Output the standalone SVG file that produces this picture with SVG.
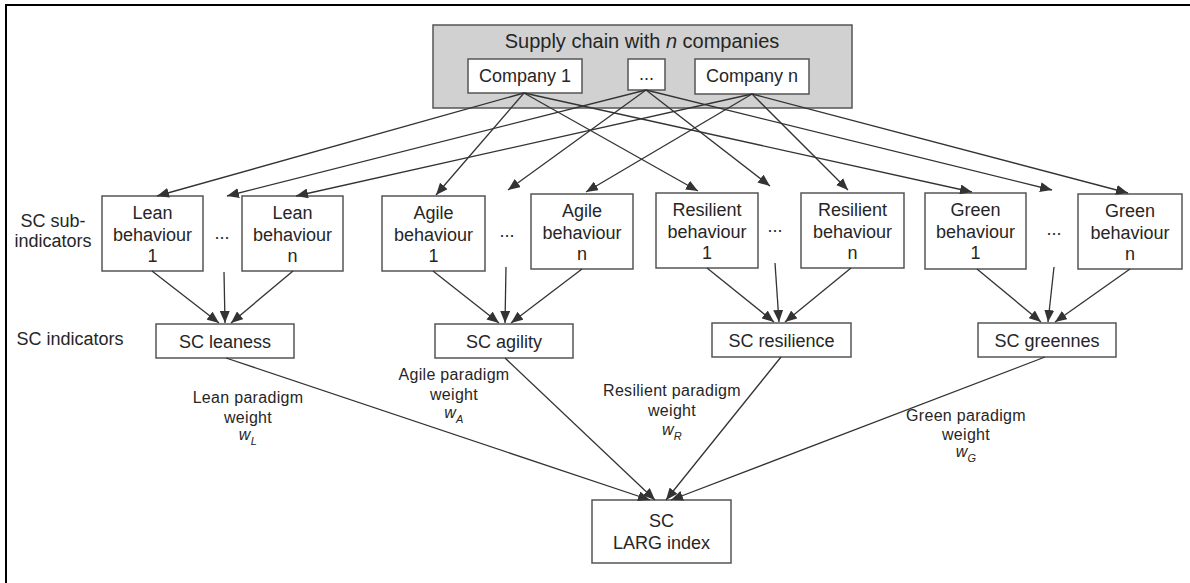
<svg xmlns="http://www.w3.org/2000/svg" width="1190" height="583" viewBox="0 0 1190 583">
<style>
.bx{fill:#fff;stroke:#555;stroke-width:1.5}
.t{font-family:"Liberation Sans",Arial,sans-serif;font-size:18px;fill:#262626;text-anchor:middle}
.tl{font-family:"Liberation Sans",Arial,sans-serif;font-size:18px;fill:#262626;text-anchor:middle}
.w{font-family:"Liberation Sans",Arial,sans-serif;font-size:16px;fill:#262626;text-anchor:middle;letter-spacing:0.3px}
.c line{stroke:#333;stroke-width:1.3;marker-end:url(#ah)}
.c path{stroke:#333;stroke-width:1.3;fill:none}
</style>
<defs>
<marker id="ah" markerUnits="userSpaceOnUse" markerWidth="13" markerHeight="10" refX="12" refY="5" orient="auto">
<path d="M0,0 L12,5 L0,10 z" fill="#333"/>
</marker>
</defs>
<rect width="1190" height="583" fill="#fff"/>
<path d="M6,583 V5 H1190" fill="none" stroke="#000" stroke-width="2"/>

<g id="supply-chain">
<rect x="433" y="25" width="419" height="83" fill="#d1d1d1" stroke="#555" stroke-width="1.5"/>
<text class="t" x="642" y="48" font-size="20" style="font-size:20px">Supply chain with <tspan font-style="italic">n</tspan> companies</text>
</g>
<g id="company-1"><rect class="bx" x="468" y="59" width="114" height="34"/><text class="t" x="525" y="82">Company 1</text></g>
<g id="company-dots"><rect class="bx" x="628" y="59" width="37" height="31"/><text class="t" x="646.5" y="80">...</text></g>
<g id="company-n"><rect class="bx" x="695" y="59" width="114" height="35"/><text class="t" x="752" y="82">Company n</text></g>

<g id="label-sub"><text class="tl" x="53" y="227">SC sub-</text><text class="tl" x="53" y="247">indicators</text></g>
<g id="label-ind"><text class="tl" x="70" y="345">SC indicators</text></g>

<g id="lean-1"><rect class="bx" x="102" y="196" width="101" height="75"/><text class="t" x="152.5" y="219">Lean</text><text class="t" x="152.5" y="240.5">behaviour</text><text class="t" x="152.5" y="262">1</text></g>
<g id="lean-dots"><text class="t" x="222" y="239">...</text></g>
<g id="lean-n"><rect class="bx" x="242" y="196" width="101" height="75"/><text class="t" x="292.5" y="219">Lean</text><text class="t" x="292.5" y="240.5">behaviour</text><text class="t" x="292.5" y="262">n</text></g>

<g id="agile-1"><rect class="bx" x="382" y="196" width="103" height="75"/><text class="t" x="433.5" y="219">Agile</text><text class="t" x="433.5" y="240.5">behaviour</text><text class="t" x="433.5" y="262">1</text></g>
<g id="agile-dots"><text class="t" x="507" y="237">...</text></g>
<g id="agile-n"><rect class="bx" x="531" y="194" width="102" height="75"/><text class="t" x="582" y="217">Agile</text><text class="t" x="582" y="238.5">behaviour</text><text class="t" x="582" y="260">n</text></g>

<g id="resilient-1"><rect class="bx" x="656" y="193" width="102" height="75"/><text class="t" x="707" y="216">Resilient</text><text class="t" x="707" y="237.5">behaviour</text><text class="t" x="707" y="259">1</text></g>
<g id="resilient-dots"><text class="t" x="775" y="232">...</text></g>
<g id="resilient-n"><rect class="bx" x="801" y="193" width="103" height="75"/><text class="t" x="852.5" y="216">Resilient</text><text class="t" x="852.5" y="237.5">behaviour</text><text class="t" x="852.5" y="259">n</text></g>

<g id="green-1"><rect class="bx" x="925" y="193" width="101" height="76"/><text class="t" x="975.5" y="216">Green</text><text class="t" x="975.5" y="237.5">behaviour</text><text class="t" x="975.5" y="259">1</text></g>
<g id="green-dots"><text class="t" x="1054" y="235">...</text></g>
<g id="green-n"><rect class="bx" x="1078" y="194" width="104" height="75"/><text class="t" x="1130" y="217">Green</text><text class="t" x="1130" y="238.5">behaviour</text><text class="t" x="1130" y="260">n</text></g>

<g id="sc-leaness"><rect class="bx" x="156" y="324" width="138" height="34"/><text class="t" x="225" y="347.5">SC leaness</text></g>
<g id="sc-agility"><rect class="bx" x="435" y="324" width="138" height="34"/><text class="t" x="504" y="347.5">SC agility</text></g>
<g id="sc-resilience"><rect class="bx" x="712" y="323" width="139" height="34"/><text class="t" x="781.5" y="346.5">SC resilience</text></g>
<g id="sc-greennes"><rect class="bx" x="978" y="323" width="138" height="34"/><text class="t" x="1047" y="346.5">SC greennes</text></g>

<g id="sc-larg"><rect class="bx" x="592" y="500" width="139" height="63"/><text class="t" x="661.5" y="527">SC</text><text class="t" x="661.5" y="549">LARG index</text></g>

<g id="weight-lean"><text class="w" x="248" y="403">Lean paradigm</text><text class="w" x="248" y="423">weight</text><text class="w" x="248" y="440"><tspan font-style="italic">w</tspan><tspan font-style="italic" font-size="11" dy="5">L</tspan></text></g>
<g id="weight-agile"><text class="w" x="454" y="380">Agile paradigm</text><text class="w" x="454" y="400">weight</text><text class="w" x="454" y="418"><tspan font-style="italic">w</tspan><tspan font-style="italic" font-size="11" dy="5">A</tspan></text></g>
<g id="weight-resilient"><text class="w" x="672" y="396">Resilient paradigm</text><text class="w" x="672" y="416">weight</text><text class="w" x="672" y="435"><tspan font-style="italic">w</tspan><tspan font-style="italic" font-size="11" dy="5">R</tspan></text></g>
<g id="weight-green"><text class="w" x="966" y="421">Green paradigm</text><text class="w" x="966" y="439.5">weight</text><text class="w" x="966" y="457"><tspan font-style="italic">w</tspan><tspan font-style="italic" font-size="11" dy="5">G</tspan></text></g>

<g id="connectors" class="c">
<line x1="524" y1="93" x2="157" y2="196"/>
<line x1="524" y1="93" x2="436" y2="195"/>
<line x1="524" y1="93" x2="698" y2="191"/>
<line x1="524" y1="93" x2="972" y2="192"/>
<line x1="646" y1="90" x2="227" y2="196"/>
<line x1="646" y1="90" x2="508" y2="190"/>
<line x1="646" y1="90" x2="770" y2="186"/>
<line x1="646" y1="90" x2="1052" y2="190"/>
<line x1="752" y1="94" x2="296" y2="196"/>
<line x1="752" y1="94" x2="586" y2="192"/>
<line x1="752" y1="94" x2="848" y2="190"/>
<line x1="752" y1="94" x2="1128" y2="193"/>

<line x1="152" y1="271" x2="219" y2="323"/>
<line x1="224" y1="272" x2="225" y2="323"/>
<line x1="293" y1="271" x2="231" y2="323"/>
<line x1="433" y1="271" x2="499" y2="323"/>
<line x1="506" y1="267" x2="505" y2="323"/>
<line x1="582" y1="269" x2="511" y2="323"/>
<line x1="707" y1="268" x2="774" y2="322"/>
<line x1="775" y1="263" x2="779" y2="322"/>
<line x1="851" y1="268" x2="785" y2="322"/>
<line x1="977" y1="269" x2="1041" y2="322"/>
<line x1="1054" y1="267" x2="1048" y2="322"/>
<line x1="1130" y1="269" x2="1055" y2="322"/>

<line x1="226" y1="358" x2="650" y2="500"/>
<line x1="505" y1="358" x2="655" y2="500"/>
<line x1="781" y1="357" x2="666" y2="500"/>
<line x1="1045" y1="357" x2="671" y2="500"/>
</g>
</svg>
